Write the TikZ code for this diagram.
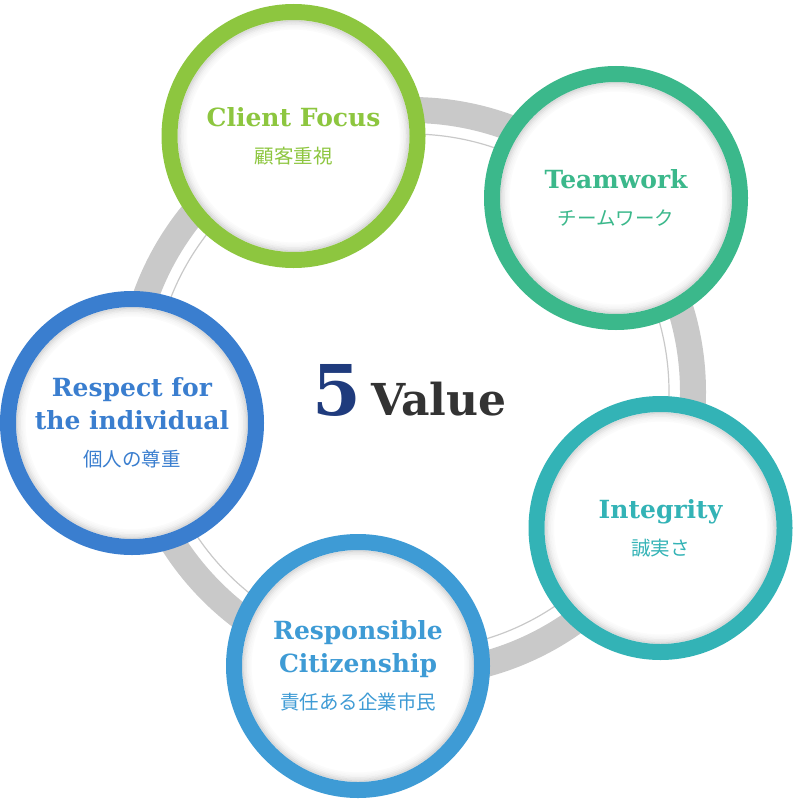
\documentclass[tikz,border=0pt]{standalone}
\usepackage{fontspec}
\setmainfont{DejaVu Serif}
\newfontfamily\cjk{Noto Sans CJK JP}
\usepackage{xcolor}
\usepackage{tikz}
\usetikzlibrary{positioning}

\definecolor{ringgray}{HTML}{C9C9C9}
\definecolor{clientgreen}{HTML}{8DC63F}
\definecolor{teamgreen}{HTML}{3BB88B}
\definecolor{integteal}{HTML}{33B3B6}
\definecolor{citizenblue}{HTML}{3E9BD5}
\definecolor{respectblue}{HTML}{3A7ECF}
\definecolor{fivenavy}{HTML}{1F3B7D}
\definecolor{valuegray}{HTML}{333333}

\newcommand{\jptext}[1]{{\cjk\mdseries\fontsize{19.5}{20}\selectfont #1}}

\begin{document}
\begin{tikzpicture}[x=1pt,y=-1pt,
    valuering/.style={circle, draw=#1, text=#1, fill=white, line width=16pt,
        minimum size=248pt, inner sep=0pt, align=center,
        font=\bfseries\fontsize{25}{33}\selectfont,
        path picture={
            \foreach \k/\o in {0/0.14,1/0.1,2/0.07,3/0.045,4/0.028,5/0.014}
            \draw[black, opacity=\o, line width=1.6pt]
                (path picture bounding box.center) circle (115.2pt-1.6pt*\k);
        }}]
    \useasboundingbox (0,0) rectangle (794,800);

    % gray ring
    \coordinate (hub) at (411,392);
    \draw[ringgray, line width=26pt] (hub) circle (282);
    \draw[ringgray, line width=1.2pt] (hub) circle (258);

    % value circles
    \node[valuering=clientgreen] (client) at (293.5,136)
        {Client Focus\\[4pt]\jptext{顧客重視}};
    \node[valuering=teamgreen] (teamwork) at (616,198)
        {Teamwork\\[4pt]\jptext{チームワーク}};
    \node[valuering=integteal] (integrity) at (660.5,528)
        {Integrity\\[4pt]\jptext{誠実さ}};
    \node[valuering=citizenblue] (citizen) at (358,666)
        {Responsible\\Citizenship\\[4pt]\jptext{責任ある企業市民}};
    \node[valuering=respectblue] (respect) at (132,423)
        {Respect for\\the individual\\[4pt]\jptext{個人の尊重}};

    % title
    \node[anchor=base west, inner sep=0pt, text=fivenavy,
        font=\bfseries\fontsize{70}{70}\selectfont] (five) at (312,415) {5};
    \node[base right=10pt of five, inner sep=0pt, text=valuegray,
        font=\bfseries\fontsize{44}{44}\selectfont] (value) {Value};
\end{tikzpicture}
\end{document}
